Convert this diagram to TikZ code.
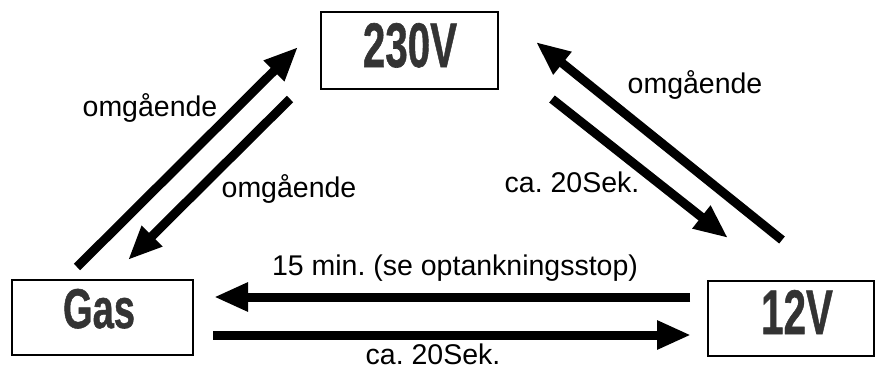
\documentclass[tikz,border=0pt]{standalone}
\usepackage{fontspec}
\setmainfont{Liberation Sans}
\newfontfamily\boxfont[FakeBold=1.0]{Liberation Sans Bold}
\usetikzlibrary{arrows.meta}
\definecolor{boxtext}{HTML}{333333}
\frenchspacing
\begin{document}
\begin{tikzpicture}[x=1pt,y=-1pt,
  bigarrow/.style={line width=9pt,-{Triangle[length=34pt,width=27pt]}},
  lbl/.style={font=\fontsize{28.5}{30}\selectfont,anchor=base,inner sep=0pt},
  boxlbl/.style={text=boxtext,anchor=base,inner sep=0pt},
  framebox/.style={draw=black,line width=2.6pt,inner sep=0pt},
]
\useasboundingbox (0,0) rectangle (877,369);
% boxes
\node[framebox,minimum width=177pt,minimum height=77pt] (v230) at (409.5,50.5) {};
\node[framebox,minimum width=181pt,minimum height=75pt] (gas) at (102.5,317.5) {};
\node[framebox,minimum width=166pt,minimum height=75pt] (v12) at (791,318.5) {};
% box texts
\node[boxlbl,font=\fontsize{63}{63}\boxfont] (t230) at (410,67) {\scalebox{0.64}[1]{230V}};
\node[boxlbl,font=\fontsize{56}{56}\boxfont] (tgas) at (99,328) {\scalebox{0.68}[1]{Gas}};
\node[boxlbl,font=\fontsize{63}{63}\boxfont] (t12) at (797,334) {\scalebox{0.64}[1]{12V}};
% endpoints
\coordinate (a1s) at (77,267);  \coordinate (a1e) at (298,47);
\coordinate (a2s) at (290,99);  \coordinate (a2e) at (128,260);
\coordinate (a3s) at (782,240); \coordinate (a3e) at (536,42);
\coordinate (a4s) at (552,99);  \coordinate (a4e) at (728,238);
\coordinate (a5s) at (690,297); \coordinate (a5e) at (214,297);
\coordinate (a6s) at (213,335); \coordinate (a6e) at (691,335);
\draw[bigarrow] (a1s) -- (a1e);
\draw[bigarrow] (a2s) -- (a2e);
\draw[bigarrow] (a3s) -- (a3e);
\draw[bigarrow] (a4s) -- (a4e);
\draw[bigarrow] (a5s) -- (a5e);
\draw[bigarrow] (a6s) -- (a6e);
% labels
\node[lbl] (l1) at (150,116) {omgående};
\node[lbl] (l2) at (289,197) {omgående};
\node[lbl] (l3) at (695,93) {omgående};
\node[lbl] (l4) at (572,192) {ca. 20Sek.};
\node[lbl] (l5) at (455,275) {15 min. (se optankningsstop)};
\node[lbl] (l6) at (433,364) {ca. 20Sek.};
\end{tikzpicture}
\end{document}
